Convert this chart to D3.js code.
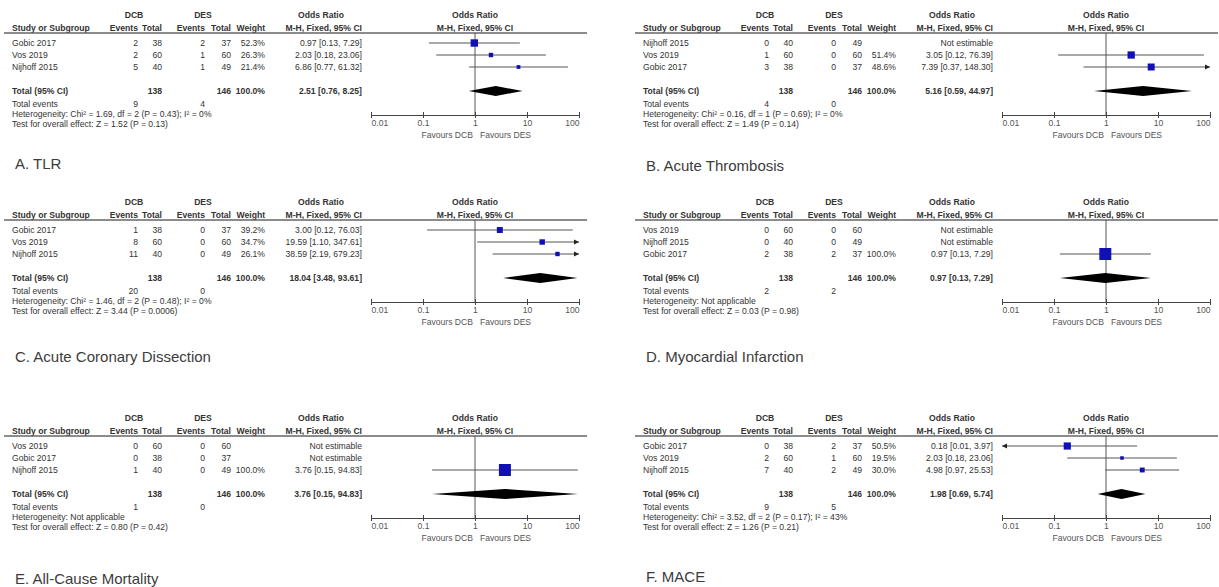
<!DOCTYPE html>
<html><head><meta charset="utf-8">
<script src="https://cdn.jsdelivr.net/npm/d3@7"></script>
<style>
body{margin:0;background:#fff;}
svg text{font-family:"Liberation Sans",Arial,sans-serif;}
</style>
</head><body>
<svg id="c" width="1219" height="587"></svg>
<script>
// ---------- DATA ----------
const tickLabels = ["0.01", "0.1", "1", "10", "100"];
const tickValues = [0.01, 0.1, 1, 10, 100];
const favourLabels = ["Favours DCB", "Favours DES"];

// A. TLR
const titleA = "A. TLR";
const studiesA = ["Gobic 2017", "Vos 2019", "Nijhoff 2015"];
const dcbEventsA = [2, 2, 5], dcbTotalA = [38, 60, 40];
const desEventsA = [2, 1, 1], desTotalA = [37, 60, 49];
const weightA = [52.3, 26.3, 21.4];
const orA = [0.97, 2.03, 6.86], loA = [0.13, 0.18, 0.77], hiA = [7.29, 23.06, 61.32];
const totalA = [138, 146, 100.0], pooledA = [2.51, 0.76, 8.25], eventsA = [9, 4];
const hetA = "Heterogeneity: Chi\u00b2 = 1.69, df = 2 (P = 0.43); I\u00b2 = 0%";
const testA = "Test for overall effect: Z = 1.52 (P = 0.13)";

// B. Acute Thrombosis
const titleB = "B. Acute Thrombosis";
const studiesB = ["Nijhoff 2015", "Vos 2019", "Gobic 2017"];
const dcbEventsB = [0, 1, 3], dcbTotalB = [40, 60, 38];
const desEventsB = [0, 0, 0], desTotalB = [49, 60, 37];
const weightB = [null, 51.4, 48.6];
const orB = [null, 3.05, 7.39], loB = [null, 0.12, 0.37], hiB = [null, 76.39, 148.30];
const totalB = [138, 146, 100.0], pooledB = [5.16, 0.59, 44.97], eventsB = [4, 0];
const hetB = "Heterogeneity: Chi\u00b2 = 0.16, df = 1 (P = 0.69); I\u00b2 = 0%";
const testB = "Test for overall effect: Z = 1.49 (P = 0.14)";

// C. Acute Coronary Dissection
const titleC = "C. Acute Coronary Dissection";
const studiesC = ["Gobic 2017", "Vos 2019", "Nijhoff 2015"];
const dcbEventsC = [1, 8, 11], dcbTotalC = [38, 60, 40];
const desEventsC = [0, 0, 0], desTotalC = [37, 60, 49];
const weightC = [39.2, 34.7, 26.1];
const orC = [3.00, 19.59, 38.59], loC = [0.12, 1.10, 2.19], hiC = [76.03, 347.61, 679.23];
const totalC = [138, 146, 100.0], pooledC = [18.04, 3.48, 93.61], eventsC = [20, 0];
const hetC = "Heterogeneity: Chi\u00b2 = 1.46, df = 2 (P = 0.48); I\u00b2 = 0%";
const testC = "Test for overall effect: Z = 3.44 (P = 0.0006)";

// D. Myocardial Infarction
const titleD = "D. Myocardial Infarction";
const studiesD = ["Vos 2019", "Nijhoff 2015", "Gobic 2017"];
const dcbEventsD = [0, 0, 2], dcbTotalD = [60, 40, 38];
const desEventsD = [0, 0, 2], desTotalD = [60, 49, 37];
const weightD = [null, null, 100.0];
const orD = [null, null, 0.97], loD = [null, null, 0.13], hiD = [null, null, 7.29];
const totalD = [138, 146, 100.0], pooledD = [0.97, 0.13, 7.29], eventsD = [2, 2];
const hetD = "Heterogeneity: Not applicable";
const testD = "Test for overall effect: Z = 0.03 (P = 0.98)";

// E. All-Cause Mortality
const titleE = "E. All-Cause Mortality";
const studiesE = ["Vos 2019", "Gobic 2017", "Nijhoff 2015"];
const dcbEventsE = [0, 0, 1], dcbTotalE = [60, 38, 40];
const desEventsE = [0, 0, 0], desTotalE = [60, 37, 49];
const weightE = [null, null, 100.0];
const orE = [null, null, 3.76], loE = [null, null, 0.15], hiE = [null, null, 94.83];
const totalE = [138, 146, 100.0], pooledE = [3.76, 0.15, 94.83], eventsE = [1, 0];
const hetE = "Heterogeneity: Not applicable";
const testE = "Test for overall effect: Z = 0.80 (P = 0.42)";

// F. MACE
const titleF = "F. MACE";
const studiesF = ["Gobic 2017", "Vos 2019", "Nijhoff 2015"];
const dcbEventsF = [0, 2, 7], dcbTotalF = [38, 60, 40];
const desEventsF = [2, 1, 2], desTotalF = [37, 60, 49];
const weightF = [50.5, 19.5, 30.0];
const orF = [0.18, 2.03, 4.98], loF = [0.01, 0.18, 0.97], hiF = [3.97, 23.06, 25.53];
const totalF = [138, 146, 100.0], pooledF = [1.98, 0.69, 5.74], eventsF = [9, 5];
const hetF = "Heterogeneity: Chi\u00b2 = 3.52, df = 2 (P = 0.17); I\u00b2 = 43%";
const testF = "Test for overall effect: Z = 1.26 (P = 0.21)";

// ---------- BUILD ----------
function mk(title, studies, dE, dT, sE, sT, w, o, lo, hi, tot, pooled, ev, het, test) {
  return {title, rows: studies.map((s, i) => ({study: s, dE: dE[i], dT: dT[i], sE: sE[i], sT: sT[i], w: w[i], or: o[i], lo: lo[i], hi: hi[i]})),
          tot, pooled, ev, het, test};
}
const panels = [
  [mk(titleA, studiesA, dcbEventsA, dcbTotalA, desEventsA, desTotalA, weightA, orA, loA, hiA, totalA, pooledA, eventsA, hetA, testA), 0, 33, 164],
  [mk(titleB, studiesB, dcbEventsB, dcbTotalB, desEventsB, desTotalB, weightB, orB, loB, hiB, totalB, pooledB, eventsB, hetB, testB), 631, 33, 166],
  [mk(titleC, studiesC, dcbEventsC, dcbTotalC, desEventsC, desTotalC, weightC, orC, loC, hiC, totalC, pooledC, eventsC, hetC, testC), 0, 220, 357],
  [mk(titleD, studiesD, dcbEventsD, dcbTotalD, desEventsD, desTotalD, weightD, orD, loD, hiD, totalD, pooledD, eventsD, hetD, testD), 631, 220, 357],
  [mk(titleE, studiesE, dcbEventsE, dcbTotalE, desEventsE, desTotalE, weightE, orE, loE, hiE, totalE, pooledE, eventsE, hetE, testE), 0, 436, 579],
  [mk(titleF, studiesF, dcbEventsF, dcbTotalF, desEventsF, desTotalF, weightF, orF, loF, hiF, totalF, pooledF, eventsF, hetF, testF), 631, 436, 577]
];

const svg = d3.select("#c");
const f2 = d3.format(".2f"), f1 = d3.format(".1f");
const orText = (o, l, h) => o == null ? "Not estimable" : `${f2(o)} [${f2(l)}, ${f2(h)}]`;
const FS = 8.6, TXT = "#333", GRID = "#666";
const sq = d3.scalePow().exponent(0.75).domain([0, 100]).range([0, 12]);

// column layout (relative to panel origin)
const C = {study: 12, dE: 138, dT: 162, sE: 205, sT: 231, w: 265, or: 362, l0: 4, l1: 587};

function t(g, s, x, y, anchor, bold, color, size) {
  return g.append("text").attr("x", x).attr("y", y).attr("dy", "0.35em")
    .attr("text-anchor", anchor || "start")
    .attr("font-size", size || FS)
    .attr("font-weight", bold ? "bold" : "normal")
    .attr("fill", color || TXT).text(s);
}

panels.forEach(([p, ox, oy, ty]) => {
  const g = svg.append("g").attr("transform", `translate(${ox},${oy})`);
  const x = d3.scaleLog().domain([0.01, 100]).range([371, 579]);

  // headers
  t(g, "DCB", 134, -18, "middle", true);
  t(g, "DES", 203, -18, "middle", true);
  t(g, "Odds Ratio", 321, -18, "middle", true);
  t(g, "Odds Ratio", x(1), -18, "middle", true);
  t(g, "Study or Subgroup", C.study, -5, "start", true);
  t(g, "Events", C.dE, -5, "end", true);
  t(g, "Total", C.dT, -5, "end", true);
  t(g, "Events", C.sE, -5, "end", true);
  t(g, "Total", C.sT, -5, "end", true);
  t(g, "Weight", C.w, -5, "end", true);
  t(g, "M-H, Fixed, 95% CI", C.or, -5, "end", true);
  t(g, "M-H, Fixed, 95% CI", x(1), -5, "middle", true);
  g.append("line").attr("x1", C.l0).attr("x2", C.l1).attr("y1", 0).attr("y2", 0)
    .attr("stroke", GRID).attr("stroke-width", 1.4);

  // vertical null line
  g.append("line").attr("x1", x(1)).attr("x2", x(1)).attr("y1", 0).attr("y2", 82)
    .attr("stroke", "#555").attr("stroke-width", 1);

  // study rows
  p.rows.forEach((r, i) => {
    const y = 10 + 12 * i;
    t(g, r.study, C.study, y);
    t(g, r.dE, C.dE, y, "end");
    t(g, r.dT, C.dT, y, "end");
    t(g, r.sE, C.sE, y, "end");
    t(g, r.sT, C.sT, y, "end");
    if (r.w != null) t(g, f1(r.w) + "%", C.w, y, "end");
    t(g, orText(r.or, r.lo, r.hi), C.or, y, "end");
    if (r.or != null) {
      const [d0, d1] = x.domain();
      const xa = x(Math.max(r.lo, d0)), xb = x(Math.min(r.hi, d1));
      g.append("line").attr("x1", xa).attr("x2", xb).attr("y1", y).attr("y2", y)
        .attr("stroke", "#555").attr("stroke-width", 1);
      if (r.hi > d1) g.append("path").attr("d", `M${xb},${y}l-5,-2.5v5z`).attr("fill", "#222");
      if (r.lo <= d0) g.append("path").attr("d", `M${xa},${y}l5,-2.5v5z`).attr("fill", "#222");
      const s = sq(r.w);
      g.append("rect").attr("x", x(r.or) - s / 2).attr("y", y - s / 2).attr("width", s).attr("height", s)
        .attr("fill", "#1010b4");
    }
  });

  // total row
  const yt = 58;
  t(g, "Total (95% CI)", C.study, yt, "start", true);
  t(g, p.tot[0], C.dT, yt, "end", true);
  t(g, p.tot[1], C.sT, yt, "end", true);
  t(g, f1(p.tot[2]) + "%", C.w, yt, "end", true);
  t(g, orText(p.pooled[0], p.pooled[1], p.pooled[2]), C.or, yt, "end", true);
  g.append("path").attr("d",
    `M${x(p.pooled[1])},${yt}L${x(p.pooled[0])},${yt - 5}L${x(p.pooled[2])},${yt}L${x(p.pooled[0])},${yt + 5}Z`)
    .attr("fill", "#000");

  t(g, "Total events", C.study, 71);
  t(g, p.ev[0], C.dE, 71, "end");
  t(g, p.ev[1], C.sE, 71, "end");
  t(g, p.het, C.study, 81);
  t(g, p.test, C.study, 91);

  // axis
  const ax = g.append("g").attr("transform", "translate(0,82)")
    .call(d3.axisBottom(x).tickValues(tickValues).tickFormat((d, i) => tickLabels[i]).tickSize(3).tickSizeOuter(0));
  ax.select(".domain").attr("stroke", "#444");
  ax.selectAll(".tick line").attr("y1", -3).attr("y2", 3).attr("stroke", "#444");
  ax.selectAll(".tick text").attr("y", 5).attr("font-size", FS).attr("fill", "#555")
    .attr("font-family", "Liberation Sans, Arial, sans-serif")
    .attr("text-anchor", (d, i) => i === 0 ? "start" : (i === tickValues.length - 1 ? "end" : "middle"));
  t(g, favourLabels[0], x(1) - 2, 102, "end", false, "#555");
  t(g, favourLabels[1], x(1) + 5, 102, "start", false, "#555");

  // panel title
  svg.append("text").attr("x", ox + 15).attr("y", ty).attr("dy", "0.35em")
    .attr("font-family", "Lato, 'Open Sans', sans-serif").attr("font-size", 15)
    .attr("fill", "#3c3c3c").text(p.title);
});
</script>
</body></html>
